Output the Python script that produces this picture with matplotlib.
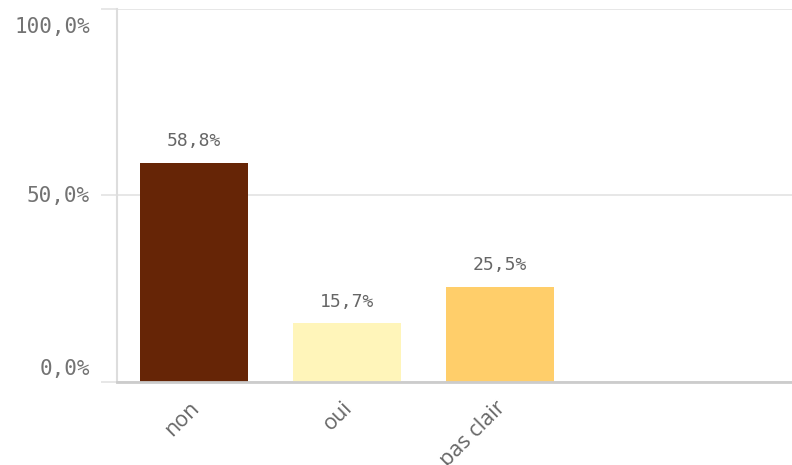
import matplotlib.pyplot as plt

# chart data
categories = ['non', 'oui', 'pas clair']
values = [58.8, 15.7, 25.5]
colors = ['#662506', '#fff5ba', '#ffce6a']
yticks = [0, 50, 100]
ytick_labels = ['0,0%', '50,0%', '100,0%']

fig = plt.figure(figsize=(7.92, 4.65), dpi=100)
ax = fig.add_axes([117 / 792, 1 - 382 / 465, 1 - 117 / 792, (382 - 9) / 465])

x = list(range(len(categories)))
ax.bar(x, values, width=0.706, color=colors, zorder=3)

# value labels above bars
for xi, v in zip(x, values):
    ax.annotate(('%.1f%%' % v).replace('.', ','), (xi, v), xytext=(0, 9), textcoords='offset points',
                ha='center', va='bottom', fontsize=13, color='#666666', family='DejaVu Sans Mono')

ax.set_xlim(-0.5, 3.91)
ax.set_ylim(0, 100)

# y axis: ticks + gridlines, labels placed inside the range like the original
ax.set_yticks(yticks)
ax.set_yticklabels([])
ax.tick_params(axis='y', length=11.5, width=1.2, color='#e3e3e3')
ax.grid(axis='y', color='#e3e3e3', linewidth=1.2, zorder=0)
ytrans = ax.get_yaxis_transform()
for yv, lab, va, dy in zip(yticks, ytick_labels, ['bottom', 'center', 'top'], [2.2, 0, -5.5]):
    ax.annotate(lab, (0, yv), xycoords=ytrans, xytext=(-19.4, dy), textcoords='offset points',
                ha='right', va=va, family='DejaVu Sans Mono', fontsize=15, color='#737373',
                annotation_clip=False)

# x axis labels
ax.set_xticks(x)
ax.set_xticklabels([])
ax.tick_params(axis='x', length=0)
xtrans = ax.get_xaxis_transform()
for xi, lab in zip(x, categories):
    ax.annotate(lab, (xi, 0), xycoords=xtrans, xytext=(-3.6, -11.2), textcoords='offset points',
                rotation=45, ha='right', va='top', rotation_mode='anchor',
                fontsize=15.5, color='#666666', family='Open Sans', annotation_clip=False)

for s in ['top', 'right']:
    ax.spines[s].set_visible(False)
ax.spines['left'].set_color('#dddddd')
ax.spines['left'].set_linewidth(1.5)
ax.spines['bottom'].set_color('#cccccc')
ax.spines['bottom'].set_linewidth(2)
ax.spines['bottom'].set_zorder(4)

fig.savefig('out.png', dpi=100)
